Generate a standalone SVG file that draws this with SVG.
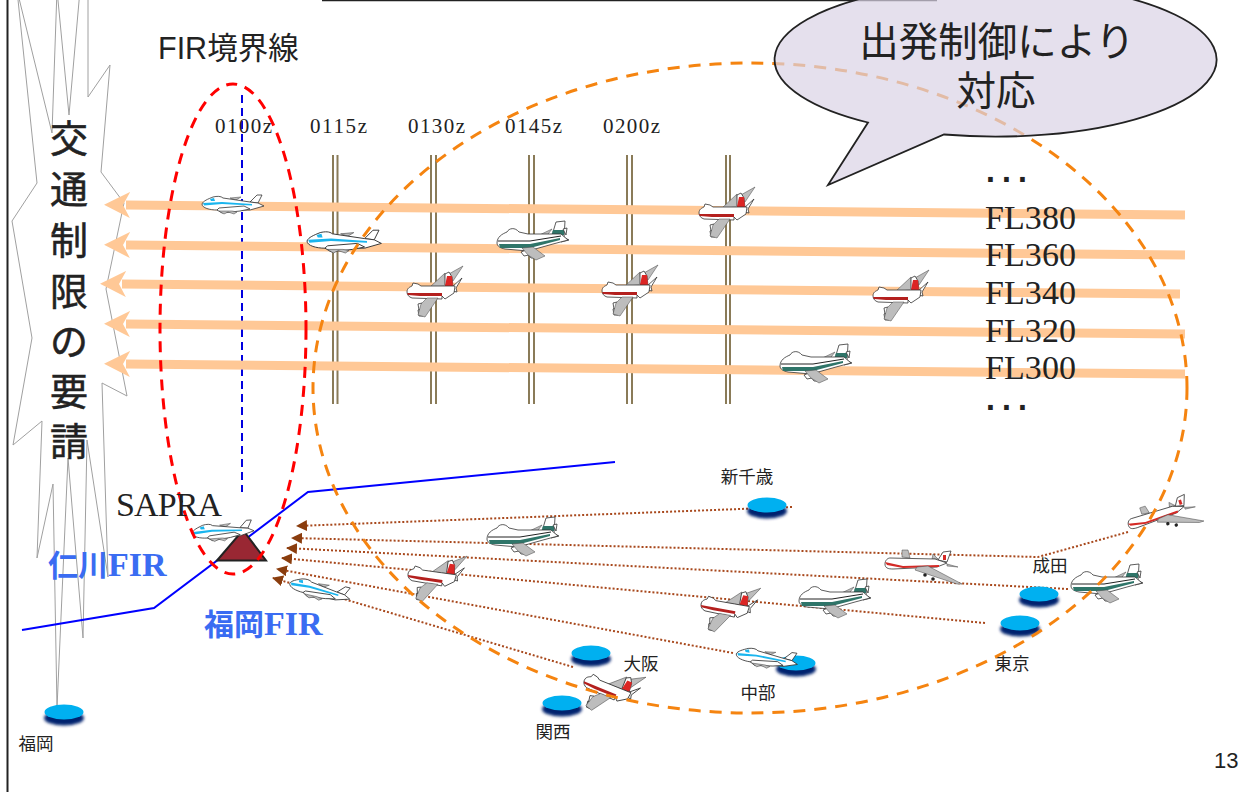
<svg xmlns="http://www.w3.org/2000/svg" width="1249" height="792" viewBox="0 0 1249 792">
<style>
.sans{font-family:"Liberation Sans","Noto Sans CJK JP",sans-serif;fill:#222}
.cjk{font-family:"Noto Sans CJK JP","Liberation Sans",sans-serif;fill:#222}
.serif{font-family:"Liberation Serif","Times New Roman",serif;fill:#222}
.fl{font-size:34px}
.time{font-size:21px}
.v{font-size:38px;text-anchor:middle;stroke:#222;stroke-width:.5}
.ap{font-size:17.5px;text-anchor:middle}
.fir{font-weight:700;fill:#3a6cf2}
.dots{font-family:"DejaVu Sans",sans-serif;font-weight:700;font-size:26px;fill:#222}
.track{stroke:#ffc896;stroke-width:9;fill:none;marker-start:url(#bigArrow)}
.grid{stroke:#8a7b58;stroke-width:2;fill:none}
.dot{stroke:#a8481c;stroke-width:2;stroke-dasharray:2 2;fill:none;marker-end:url(#smallArrow)}
.w{fill:#fff;stroke:#333;stroke-width:.8}
.g{fill:#bdbdbd;stroke:#444;stroke-width:.5}
</style>
<defs>
<marker id="bigArrow" markerUnits="userSpaceOnUse" markerWidth="26" markerHeight="26" viewBox="0 0 26 26" refX="4" refY="13" orient="auto-start-reverse"><path d="M0,0 L26,13 L0,26 L7,13Z" fill="#ffc896"/></marker>
<marker id="smallArrow" markerUnits="userSpaceOnUse" markerWidth="11" markerHeight="11" viewBox="0 0 11 11" refX="10" refY="5.5" orient="auto"><path d="M0,0 L11,5.5 L0,11Z" fill="#8a3d0e"/></marker>
<filter id="blur" x="-30%" y="-80%" width="160%" height="260%"><feGaussianBlur stdDeviation="1.6"/></filter>
<g id="airport">
<ellipse cx="0" cy="6" rx="20" ry="7.5" fill="#00206e" filter="url(#blur)"/>
<ellipse cx="0" cy="0" rx="19.5" ry="7.5" fill="#00b0f0"/>
</g>
<g id="green">
<path class="g" d="M0,-3 L19,-12 L12,-3Z"/>
<path class="w" d="M20,-9 L23,-19 L32,-20 L31,-3Z"/>
<path d="M20,-11 L31,-11 L31,-6 L18,-5Z" fill="#2f7569"/>
<path class="w" d="M30,-12 L34,-13 L33,-6 Z M30,-4 L36,-1 L28,1Z"/>
<path class="w" d="M-36,2 C-36,-4 -31,-7 -26,-9 C-24,-13 -18,-14 -14,-9 L-5,-7 L28,-7 L35,-1 L20,3 L-5,10 L-28,8 C-33,7 -36,5 -36,2Z"/>
<path d="M-34,3 L-3,3 L27,-3 L27,-1 L-3,7 L-33,7Z" fill="#2f7569"/>
<path d="M-35,0 L-3,0 L28,-5" fill="none" stroke="#222" stroke-width="1"/>
<path class="w" d="M-12,11 L-7,9 L-4,14 L-9,15Z M-5,13 L0,11 L3,17 L-2,17Z"/>
<path class="g" d="M-11,7 L0,6 L12,15 L3,19 L-5,14Z"/>
</g>
<g id="red">
<path class="g" d="M-5,-3 L10,-17 L11,-4Z"/>
<path class="g" d="M12,-15 L28,-24 L18,-9Z"/>
<path class="w" d="M10,-5 L10,-16 L14,-18 L17,-13 L18,-3Z"/>
<path d="M10,-4 L12,-14 L17,-14 L18,-4Z" fill="#dc2524"/>
<path class="w" d="M17,-3 L27,-12 L21,-2 L22,2 L17,1Z"/>
<path class="w" d="M-28,2 C-28,-2 -25,-3 -23,-4 L-22,-7 L-17,-6 L-14,-4 L5,-4 L20,-4 L19,3 L10,9 L7,6 L7,9 L-23,8 C-26,7 -28,5 -28,2Z"/>
<path d="M-28,3 L7,3 L7,6 L-15,6 L-27,5Z" fill="#b4201e"/>
<path class="w" d="M-17,14 L-13,13 L-12,20 L-16,20Z M-17,20 L-13,19 L-12,26 L-16,26Z"/>
<path class="g" d="M-8,8 L3,8 L-10,27 L-17,25 L-14,14Z"/>
</g>
<g id="blue">
<path class="w" d="M18,-2 L25,-9 L30,-9 L26,-1Z"/>
<path class="g" d="M-2,-6 L9,-7 L4,-4Z"/>
<path class="w" d="M-30,0 C-29,-3 -24,-5 -19,-7 C-15,-8 -11,-8 -9,-6 L18,-2 L26,-1 L32,2 L18,6 L-15,6 C-22,6 -30,4 -30,0Z"/>
<path d="M-29,-1 L-10,-2 L20,0 L20,1.500 L-10,0 L-28,1.500Z" fill="#1ab5ee"/>
<path d="M-22,-5 L-18,-6 L-17,-3 L-21,-3Z" fill="#1ab5ee"/>
<path class="w" d="M-15,6 L-13,4 L12,2 L18,5 L8,7 L-10,9Z"/>
<path class="g" d="M-13,7 L-8,10 L-4,8 L2,10 L5,8 L0,7Z"/>
</g>
<g id="side">
<path class="g" d="M-21,-11 L-21,-18 L-15,-18 L-13,-10Z"/>
<path class="g" d="M10,-14 L15,-9 L9,-9Z"/>
<path class="w" d="M15,-8 L20,-16 L28,-17 L24,-6Z"/>
<path d="M20,-13 L23,-13 L23,-8 L20,-8Z" fill="#d42a26"/>
<path class="g" d="M24,-4 L35,-1 L24,-2Z"/>
<path class="w" d="M-38,-4 C-38,-8 -35,-10 -33,-10 L12,-9 L24,-5 L14,-1 L-30,1 C-35,1 -38,0 -38,-4Z"/>
<path d="M-38,-6 L-20,-2 L16,-3 L16,-1 L-20,0 L-36,-3Z" fill="#d42a26"/>
<path class="g" d="M-6,-1 L5,-2 L39,16 L34,16 L-8,2Z"/>
<circle cx="2" cy="7" r="1.800" fill="#222"/><circle cx="10" cy="11" r="1.800" fill="#222"/>
</g>
</defs>

<g id="frame">
<line x1="7.500" y1="0" x2="7.500" y2="792" stroke="#222" stroke-width="2"/>
<line x1="322" y1="0" x2="937" y2="0" stroke="#222" stroke-width="2.500"/>
</g>
<path id="burst" d="M17,-10 L52,133 L57,-10 L69,115 L80,-10 L88,-10 L88,97 L110,65 L101,172 L124,203 L106,289 L127,396 L102,383 L108,577 L87,440 L83,638 L68,458 L57,708 L53,484 L37,558 L42,421 L13,445 L32,338 L12,221 L37,183Z" fill="none" stroke="#a0a0a0" stroke-width="1"/>

<g id="grid-lines">
<path class="grid" d="M333,155V404M337.500,155V404M431,155V404M436,155V404M529,155V404M534,155V404M627,155V404M632,155V404M726,155V404M730,155V404"/>
</g>
<g id="boundary">
<polyline points="22,630 154,608 308,492 615,462" fill="none" stroke="#0000ff" stroke-width="2"/>
<line x1="242" y1="95" x2="242" y2="492" stroke="#0000e0" stroke-width="2" stroke-dasharray="8 5"/>
</g>

<g id="connectors">
<line class="track" x1="126" y1="205" x2="1185" y2="215"/>
<line class="track" x1="126" y1="245" x2="1185" y2="255"/>
<line class="track" x1="122" y1="284" x2="1180" y2="294"/>
<line class="track" x1="126" y1="324" x2="1185" y2="334"/>
<line class="track" x1="126" y1="364" x2="1185" y2="374"/>
<path class="dot" d="M792,507 L297,526"/>
<path class="dot" d="M1128,532 L1038,557 L292,538"/>
<path class="dot" d="M1068,589 L287,548"/>
<path class="dot" d="M985,623 L282,558"/>
<path class="dot" d="M733,653 L277,569"/>
<path class="dot" d="M573,667 L273,578"/>
</g>

<g id="airport-shinchitose"><use href="#airport" x="767" y="505"/><text class="cjk ap" x="747" y="483">新千歳</text></g>
<g id="airport-osaka"><use href="#airport" x="591" y="653"/><text class="cjk ap" x="641" y="670">大阪</text></g>
<g id="airport-kansai"><use href="#airport" x="562" y="703"/><text class="cjk ap" x="553" y="738">関西</text></g>
<g id="airport-chubu"><use href="#airport" x="796" y="663"/><text class="cjk ap" x="758" y="699">中部</text></g>
<g id="airport-narita"><use href="#airport" x="1039" y="594"/><text class="cjk ap" x="1050" y="572">成田</text></g>
<g id="airport-tokyo"><use href="#airport" x="1020" y="623"/><text class="cjk ap" x="1012" y="670">東京</text></g>
<g id="airport-fukuoka"><use href="#airport" x="64" y="712"/><text class="cjk ap" x="36" y="750">福岡</text></g>

<g id="sapra"><path d="M217,560.500 L243,530 L266,560.500Z" fill="#992733" stroke="#222" stroke-width="2"/></g>

<g id="planes">
<use href="#blue" transform="translate(232,204)"/>
<use href="#blue" transform="translate(343,241) scale(1.2)"/>
<use href="#blue" transform="translate(222,531) rotate(-4)"/>
<use href="#blue" transform="translate(319,590) rotate(13)"/>
<use href="#blue" transform="translate(766,658) rotate(8)"/>
<use href="#green" transform="translate(533,241)"/>
<use href="#green" transform="translate(816,364)"/>
<use href="#green" transform="translate(523,537)"/>
<use href="#green" transform="translate(835,599)"/>
<use href="#green" transform="translate(1107,584)"/>
<use href="#red" transform="translate(727,211)"/>
<use href="#red" transform="translate(435,290)"/>
<use href="#red" transform="translate(630,289)"/>
<use href="#red" transform="translate(901,294)"/>
<use href="#red" transform="translate(436,576) rotate(8)"/>
<use href="#red" transform="translate(729,607) rotate(10)"/>
<use href="#red" transform="translate(611,689) rotate(22)"/>
<use href="#side" transform="translate(923,568)"/>
<use href="#side" transform="translate(1164,518) rotate(-18) scale(.95)"/>
</g>

<ellipse id="sector-red" cx="233" cy="329" rx="73" ry="245" fill="none" stroke="#ff0000" stroke-width="3" stroke-dasharray="11 8"/>
<ellipse id="sector-orange" cx="750" cy="388" rx="437" ry="325" fill="none" stroke="#f58410" stroke-width="3" stroke-dasharray="12 9"/>

<g id="callout">
<path d="M944,134.500 A221,77 0 1 0 868,122.500 L828,185Z" fill="#dad3e6" fill-opacity=".7" stroke="#222" stroke-width="1.800"/>
<text class="sans" x="997" y="56" font-size="39.500" text-anchor="middle">出発制御により</text>
<text class="sans" x="996" y="105" font-size="39.500" text-anchor="middle">対応</text>
</g>

<g id="labels">
<text class="sans" x="158" y="59" font-size="30.500">FIR境界線</text>
<text class="serif time" x="215" y="133" textLength="57">0100z</text>
<text class="serif time" x="310" y="133" textLength="57">0115z</text>
<text class="serif time" x="408" y="133" textLength="57">0130z</text>
<text class="serif time" x="505" y="133" textLength="57">0145z</text>
<text class="serif time" x="603" y="133" textLength="57">0200z</text>
<text class="serif fl" x="985" y="229" textLength="91">FL380</text>
<text class="serif fl" x="985" y="266" textLength="91">FL360</text>
<text class="serif fl" x="985" y="304" textLength="91">FL340</text>
<text class="serif fl" x="985" y="342" textLength="91">FL320</text>
<text class="serif fl" x="985" y="379" textLength="91">FL300</text>
<text class="dots" x="985.500" y="182" textLength="42">...</text>
<text class="dots" x="985.500" y="410" textLength="42">...</text>
<text class="serif" x="116" y="516" font-size="34" textLength="106">SAPRA</text>
<text class="serif fir" x="48" y="576" font-size="34"><tspan class="fir" style="font-family:'Noto Sans CJK JP',sans-serif;font-size:30px">仁川</tspan>FIR</text>
<text class="serif fir" x="204" y="635" font-size="34"><tspan class="fir" style="font-family:'Noto Sans CJK JP',sans-serif;font-size:30px">福岡</tspan>FIR</text>
<text class="cjk v" x="69" y="152">交</text>
<text class="cjk v" x="69" y="203">通</text>
<text class="cjk v" x="69" y="254">制</text>
<text class="cjk v" x="69" y="305">限</text>
<text class="cjk v" x="69" y="355">の</text>
<text class="cjk v" x="69" y="405">要</text>
<text class="cjk v" x="69" y="455">請</text>
<text class="sans" x="1214" y="768" font-size="22">13</text>
</g>
</svg>
